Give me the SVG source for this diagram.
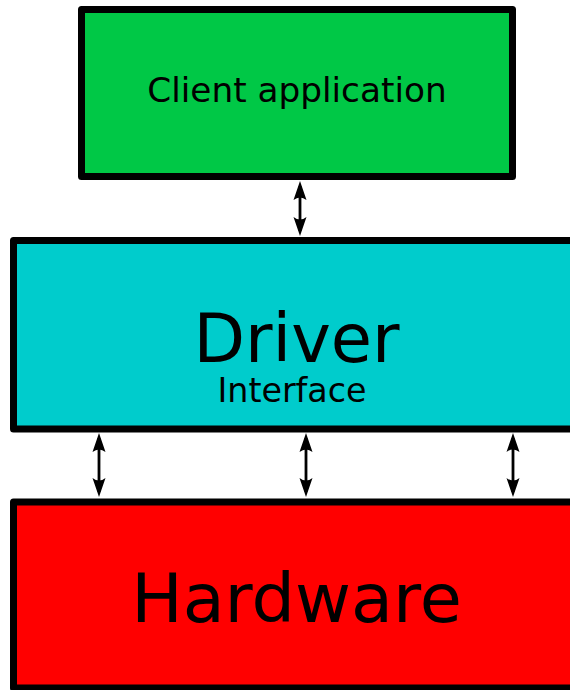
<svg xmlns="http://www.w3.org/2000/svg" width="570" height="690" viewBox="0 0 570 690">
  <style>
    .box { stroke: #000; stroke-width: 7; stroke-linejoin: round; }
    .label { font-family: "DejaVu Sans", "Bitstream Vera Sans", sans-serif; fill: #000; text-anchor: middle; }
    .link { fill: none; stroke: #000; stroke-width: 2.8; }
  </style>
  <defs>
    <!-- arrowhead pointing up, tip at the origin -->
    <path id="tip" d="M0,0 L-6.5,19 Q0,14 6.5,19 Z" fill="#000"/>
  </defs>
  <rect width="570" height="690" fill="#fff"/>

  <g id="connectors">
    <path class="link" d="M300,186 V231"/>
    <use href="#tip" transform="translate(300,181)"/>
    <use href="#tip" transform="translate(300,236) scale(1,-1)"/>

    <path class="link" d="M99,438 V492"/>
    <use href="#tip" transform="translate(99,433)"/>
    <use href="#tip" transform="translate(99,497) scale(1,-1)"/>

    <path class="link" d="M306,438 V492"/>
    <use href="#tip" transform="translate(306,433)"/>
    <use href="#tip" transform="translate(306,497) scale(1,-1)"/>

    <path class="link" d="M513,438 V492"/>
    <use href="#tip" transform="translate(513,433)"/>
    <use href="#tip" transform="translate(513,497) scale(1,-1)"/>
  </g>

  <g id="client">
    <rect class="box" x="81.5" y="9.5" width="431" height="167" fill="#00c846"/>
    <text class="label" x="297" y="102" font-size="34.3">Client application</text>
  </g>

  <g id="driver">
    <rect class="box" x="13.5" y="240.5" width="570" height="188.5" fill="#00cccc"/>
    <text class="label" x="296.5" y="361.5" font-size="67">Driver</text>
    <text class="label" x="292" y="402" font-size="33.3">Interface</text>
  </g>

  <g id="hardware">
    <rect class="box" x="13.5" y="502" width="570" height="186" fill="#ff0000"/>
    <text class="label" x="296.5" y="621.5" font-size="68.5">Hardware</text>
  </g>
</svg>
